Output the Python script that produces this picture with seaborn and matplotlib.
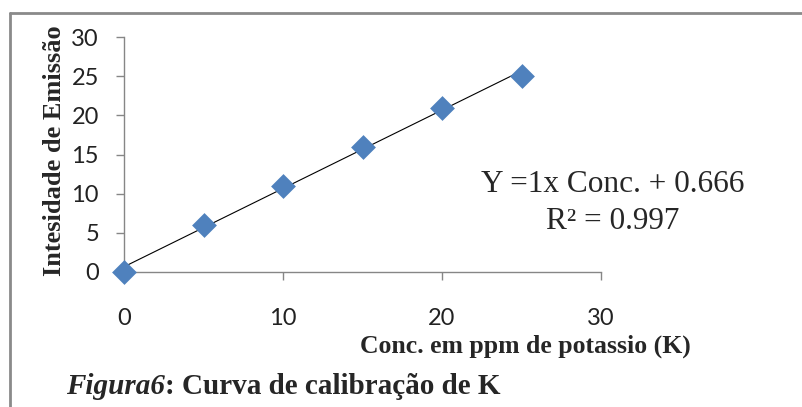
import numpy as np
import pandas as pd
import matplotlib
matplotlib.use("Agg")
import matplotlib.pyplot as plt
import seaborn as sns
from matplotlib.lines import Line2D

# calibration data for potassium
conc = [0, 5, 10, 15, 20, 25]
intensity = [0, 6, 11, 16, 21, 25]
x_ticks = [0, 10, 20, 30]
y_ticks = [0, 5, 10, 15, 20, 25, 30]

df = pd.DataFrame({"conc": conc, "intensity": intensity})

sns.set_theme(style="white")
plt.rcParams["font.family"] = ["Lato", "DejaVu Sans"]

W, H = 802, 407
fig = plt.figure(figsize=(W / 100, H / 100), dpi=100)
ax = fig.add_axes([124 / W, 1 - 272 / H, (601 - 124) / W, (272 - 37) / H])

sns.regplot(data=df, x="conc", y="intensity", ax=ax, scatter=False, ci=None,
            truncate=True, line_kws={"color": "black", "lw": 0.8})
sns.scatterplot(data=df, x="conc", y="intensity", ax=ax, marker="D", s=160,
                color="#4F81BD", edgecolor="#4F81BD", linewidth=0, zorder=3,
                clip_on=False)

ax.set_xlim(0, 30)
ax.set_ylim(0, 30)
ax.set_xticks(x_ticks)
ax.set_yticks(y_ticks)
ax.set_xlabel("")
ax.set_ylabel("")
for s in ["top", "right"]:
    ax.spines[s].set_visible(False)
for s in ["left", "bottom"]:
    ax.spines[s].set_color("#868686")
    ax.spines[s].set_linewidth(1.0)
ax.tick_params(axis="y", direction="out", length=6, width=1, color="#868686",
               pad=12, labelsize=17, labelcolor="#222222", left=True)
ax.tick_params(axis="x", direction="out", length=6, width=1, color="#868686",
               pad=20, labelsize=17, labelcolor="#222222", bottom=True)
ax.patch.set_alpha(0)

serif = ["Liberation Serif", "DejaVu Serif"]
fig.text(55 / W, 1 - 151 / H, "Intesidade de Emissão", rotation=90, ha="center",
         va="center", family=serif, fontweight="bold", fontsize=19)
fig.text(525 / W, 1 - 353 / H, "Conc. em ppm de potassio (K)", ha="center",
         va="baseline", family=serif, fontweight="bold", fontsize=18.5)
fig.text(613 / W, 1 - 192 / H, "Y =1x Conc. + 0.666", ha="center", va="baseline",
         family=serif, fontsize=22.5)
fig.text(613 / W, 1 - 229 / H, "R² = 0.997", ha="center", va="baseline",
         family=serif, fontsize=22.5)

# caption with mixed styles
cap1 = fig.text(66 / W, 1 - 394 / H, "Figura6", ha="left", va="baseline",
                family=serif, fontweight="bold", style="italic", fontsize=21)
renderer = fig.canvas.get_renderer()
bb = cap1.get_window_extent(renderer)
fig.text(bb.x1 / W, 1 - 394 / H, ": Curva de calibração de K", ha="left",
         va="baseline", family=serif, fontweight="bold", fontsize=21)

# frame of the figure box (top and left edges)
fig.add_artist(Line2D([10 / W, 1], [1 - 13 / H, 1 - 13 / H], color="#8a8a8a", lw=2))
fig.add_artist(Line2D([10 / W, 10 / W], [1 - 13 / H, 0], color="#8a8a8a", lw=2))

fig.savefig("out.png", dpi=100)
